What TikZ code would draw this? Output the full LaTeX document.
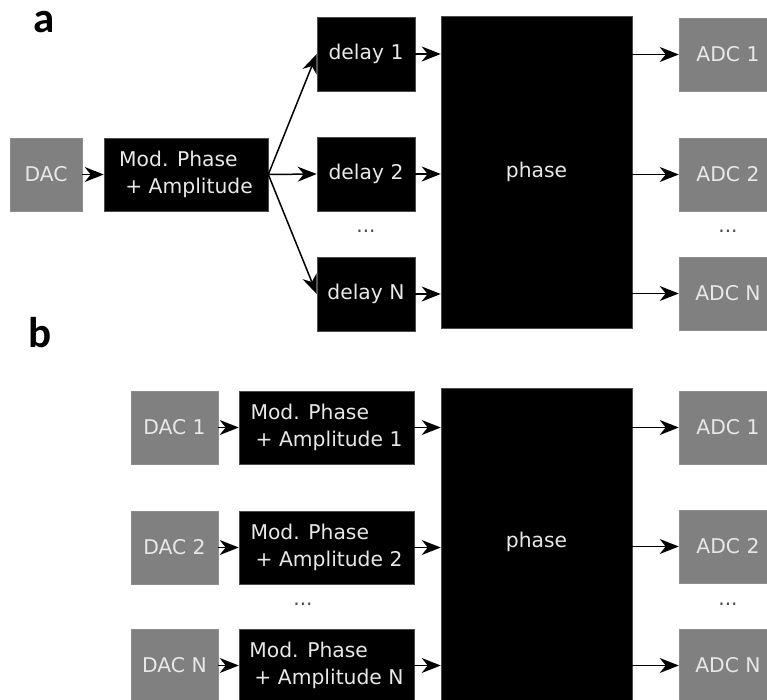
\documentclass[tikz,border=0pt]{standalone}
\usepackage{fontspec}
\setmainfont{DejaVu Sans}
\newfontfamily\labelfont{Carlito}
\usetikzlibrary{arrows.meta}
\definecolor{boxgray}{HTML}{808080}
\definecolor{txt}{HTML}{E8E8E8}
\begin{document}
\begin{tikzpicture}[x=1pt,y=-1pt,
  blk/.style={rectangle,fill=black,draw=black!70,line width=0.6pt,text=txt,
    inner sep=0pt,font=\fontsize{20.3}{27.5}\selectfont},
  gblk/.style={blk,fill=boxgray,draw=boxgray!90},
  plain/.style={text=txt,inner sep=0pt,font=\fontsize{20.3}{27.5}\selectfont},
  arr/.style={line width=1.5pt,draw=black,-{Stealth[length=19pt,width=15pt,inset=6pt]}},
  dots/.style={font=\fontsize{20}{24}\selectfont,text=black!70},
  panel/.style={font=\labelfont\bfseries\fontsize{43}{43}\selectfont,anchor=base}]
\useasboundingbox (0,0) rectangle (767,700);

% ---------- panel a ----------
\node[panel] (la) at (44,33) {a};
\node[gblk,minimum width=72,minimum height=73] (dac) at (46,174.5) {DAC};
\node[blk,minimum width=164,minimum height=73,align=left] (mod) at (186,174.5) {Mod. Phase\\\hspace*{0.3em}+ Amplitude};
\node[blk,minimum width=98,minimum height=74] (d1) at (366,54) {delay 1};
\node[blk,minimum width=98,minimum height=74] (d2) at (366,174) {delay 2};
\node[blk,minimum width=98,minimum height=74] (dN) at (366,294) {delay N};
\node[dots] (dda) at (366,231) {...};
\node[blk,minimum width=191,minimum height=312] (ph) at (536.5,172) {phase};
\node[gblk,minimum width=98,minimum height=73] (a1) at (728,54.5) {ADC 1};
\node[gblk,minimum width=98,minimum height=73] (a2) at (728,174.5) {ADC 2};
\node[gblk,minimum width=98,minimum height=73] (aN) at (728,293.5) {ADC N};
\node[dots] (ada) at (728,231) {...};

\draw[arr] (dac) -- (mod);
\draw[arr] (mod.east) -- (d1.west);
\draw[arr] (mod.east) -- (d2.west);
\draw[arr] (mod.east) -- (dN.west);
\foreach \n in {d1,d2,dN}{\draw[arr] (\n.east) -- (\n.east -| ph.west);}
\foreach \n in {a1,a2,aN}{\draw[arr] (\n.west -| ph.east) -- (\n.west);}

% ---------- panel b ----------
\node[panel] (lb) at (40,347) {b};
\node[gblk,minimum width=87,minimum height=73] (b1) at (174.5,427.5) {DAC 1};
\node[gblk,minimum width=87,minimum height=73] (b2) at (174.5,547.5) {DAC 2};
\node[gblk,minimum width=87,minimum height=73] (bN) at (174.5,665.5) {DAC N};
\node[blk,minimum width=175,minimum height=73,align=left] (m1) at (326.5,427.5) {Mod. Phase\\\hspace*{0.25em}+ Amplitude 1};
\node[blk,minimum width=175,minimum height=73,align=left] (m2) at (326.5,547.5) {Mod. Phase\\\hspace*{0.25em}+ Amplitude 2};
\node[blk,minimum width=175,minimum height=73,align=left] (mN) at (326.5,665.5) {Mod. Phase\\\hspace*{0.25em}+ Amplitude N};
\node[dots] (dmb) at (303,604) {...};
\node[blk,minimum width=191,minimum height=314] (phb) at (536.5,545) {};
\node[plain] (phbt) at (536.5,542) {phase};
\node[gblk,minimum width=98,minimum height=73] (c1) at (728,427.5) {ADC 1};
\node[gblk,minimum width=98,minimum height=73] (c2) at (728,546.5) {ADC 2};
\node[gblk,minimum width=98,minimum height=73] (cN) at (728,665.5) {ADC N};
\node[dots] (adb) at (728,604) {...};

\draw[arr] (b1) -- (m1);
\draw[arr] (b2) -- (m2);
\draw[arr] (bN) -- (mN);
\foreach \n in {m1,m2,mN}{\draw[arr] (\n.east) -- (\n.east -| phb.west);}
\foreach \n in {c1,c2,cN}{\draw[arr] (\n.west -| phb.east) -- (\n.west);}
\end{tikzpicture}
\end{document}
